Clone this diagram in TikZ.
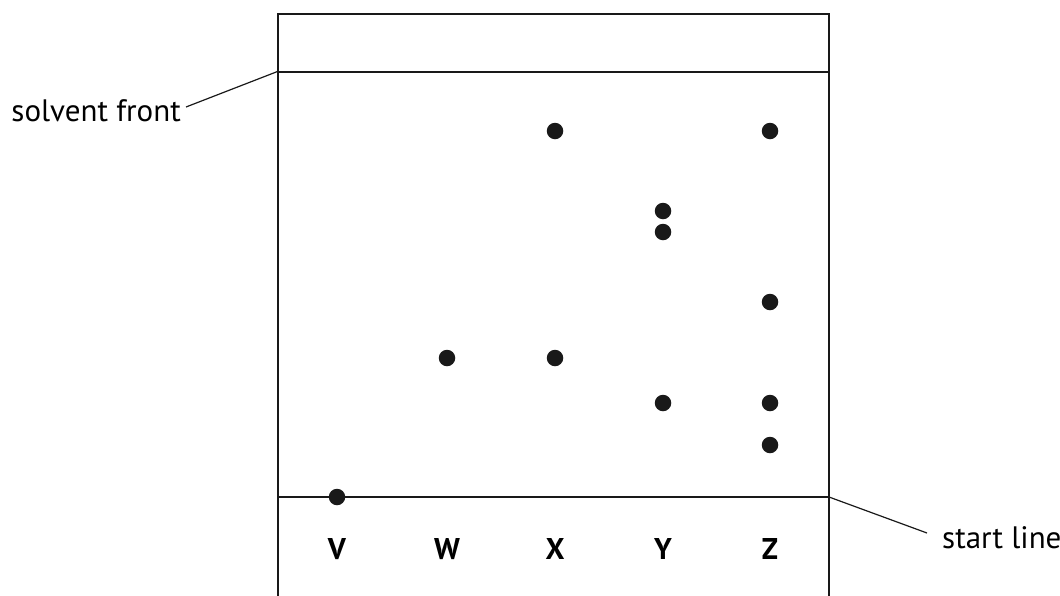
\documentclass[tikz,border=0pt]{standalone}
\usepackage{fontspec}
\setmainfont{PT Sans}
\begin{document}
\begin{tikzpicture}[x=1pt,y=-1pt,
  frame/.style={line width=2pt,black!90},
  leader/.style={line width=1.2pt,black!90},
  spot/.style={circle,fill=black!90,inner sep=0pt,minimum size=16.5pt},
  lane/.style={font=\fontsize{30}{30}\selectfont\bfseries,inner sep=0pt},
  note/.style={font=\fontsize{31}{31}\selectfont,inner sep=0pt}]
\useasboundingbox (0,0) rectangle (1060,595);
\draw[frame] (277.5,600) -- (277.5,14) -- (829,14) -- (829,600);
\coordinate (sfL) at (277.5,71.5);
\coordinate (sfR) at (829,71.5);
\coordinate (slL) at (277.5,497);
\coordinate (slR) at (829,497);
\draw[frame] (sfL) -- (sfR);
\draw[frame] (slL) -- (slR);
% labels
\node[note,anchor=east] (sf) at (181,111) {solvent front};
\node[note,anchor=west] (sl) at (942,538) {start line};
\coordinate (sfE) at (186,107);
\coordinate (slE) at (927,533);
\draw[leader] (sfE) -- (sfL);
\draw[leader] (slR) -- (slE);
% lane letters
\node[lane] (V) at (337,549) {V};
\node[lane] (W) at (447,549) {W};
\node[lane] (X) at (555,549) {X};
\node[lane] (Y) at (663,549) {Y};
\node[lane] (Z) at (770,549) {Z};
% spots
\node[spot] (v1) at (337,497) {};
\node[spot] (w1) at (447,358) {};
\node[spot] (x1) at (555,131) {};
\node[spot] (x2) at (555,358) {};
\node[spot] (y1) at (663,211) {};
\node[spot] (y2) at (663,232) {};
\node[spot] (y3) at (663,403) {};
\node[spot] (z1) at (770,131) {};
\node[spot] (z2) at (770,302) {};
\node[spot] (z3) at (770,403) {};
\node[spot] (z4) at (770,445) {};
\end{tikzpicture}
\end{document}
